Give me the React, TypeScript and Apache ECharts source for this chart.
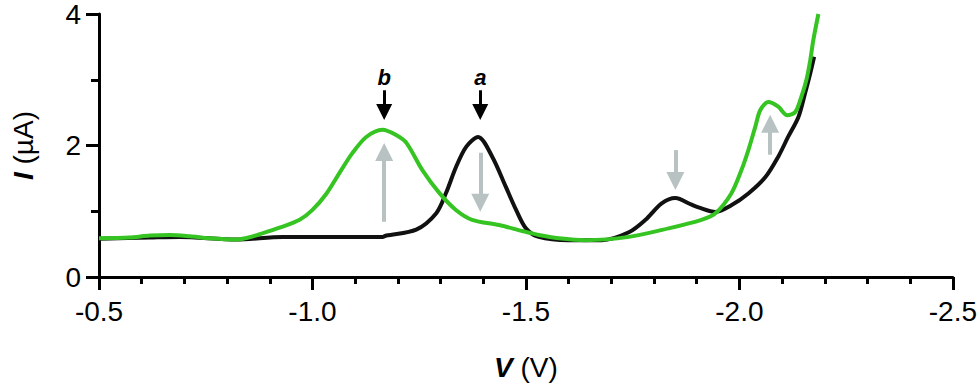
import React, { useEffect, useRef } from "react";
import * as echarts from "echarts";

// Curve a (black)
const aV = [-0.5, -0.619, -0.689, -0.822, -0.93, -1.164, -1.173, -1.243, -1.29, -1.313, -1.336, -1.36, -1.388, -1.421, -1.453, -1.477, -1.5, -1.53, -1.6, -1.678, -1.741, -1.78, -1.818, -1.85, -1.888, -1.904, -1.944, -1.981, -2.021, -2.061, -2.091, -2.114, -2.138, -2.154, -2.166, -2.175];
const aI = [0.58, 0.6, 0.61, 0.57, 0.61, 0.61, 0.63, 0.72, 0.97, 1.28, 1.67, 1.98, 2.13, 1.83, 1.37, 1.02, 0.74, 0.61, 0.56, 0.56, 0.68, 0.87, 1.12, 1.2, 1.1, 1.06, 0.99, 1.09, 1.27, 1.52, 1.83, 2.13, 2.43, 2.8, 3.1, 3.35];

// Curve b (green)
const bV = [-0.5, -0.572, -0.619, -0.666, -0.713, -0.759, -0.822, -0.85, -0.876, -0.923, -0.97, -1.0, -1.033, -1.063, -1.093, -1.126, -1.164, -1.196, -1.22, -1.257, -1.297, -1.336, -1.374, -1.437, -1.491, -1.53, -1.577, -1.64, -1.741, -1.834, -1.911, -1.944, -1.981, -2.005, -2.021, -2.037, -2.049, -2.068, -2.091, -2.112, -2.131, -2.145, -2.157, -2.166, -2.173, -2.185];
const bI = [0.59, 0.6, 0.63, 0.64, 0.62, 0.59, 0.57, 0.6, 0.65, 0.75, 0.87, 1.02, 1.27, 1.58, 1.88, 2.13, 2.24, 2.16, 2.04, 1.63, 1.28, 1.02, 0.87, 0.79, 0.7, 0.64, 0.59, 0.56, 0.61, 0.74, 0.87, 0.97, 1.27, 1.63, 1.93, 2.28, 2.54, 2.66, 2.59, 2.46, 2.51, 2.74, 3.0, 3.3, 3.6, 4.0];

// Gray change arrows: [V, from I, to I]
const grayArrows = [
  [-1.168, 0.84, 1.9],
  [-1.393, 1.89, 1.13],
  [-1.85, 1.93, 1.46],
  [-2.072, 1.86, 2.33],
];
// Peak marker arrows: [V, from I, to I, label]
const peakArrows: [number, number, number, string][] = [
  [-1.168, 2.84, 2.51, "b"],
  [-1.393, 2.84, 2.51, "a"],
];
const labelI = 3.04;

const xTicks = { min: -2.5, max: -0.5, interval: 0.5 };
const yTicks = { min: 0, max: 4, interval: 2 };

const FONT = "Liberation Sans, Arial, sans-serif";

export default function App() {
  const ref = useRef<HTMLDivElement>(null);
  useEffect(() => {
    if (!ref.current) return;
    const chart = echarts.init(ref.current, null, { renderer: "svg" });
    const aData = aV.map((v, i) => [v, aI[i]]);
    const bData = bV.map((v, i) => [v, bI[i]]);
    const grayLines = grayArrows.map(([v, y1, y2]) => [
      { coord: [v, y1], symbol: "none" },
      { coord: [v, y2], symbol: "triangle", symbolSize: 18 },
    ]);
    const blackLines = peakArrows.map(([v, y1, y2]) => [
      { coord: [v, y1], symbol: "none" },
      { coord: [v, y2], symbol: "triangle", symbolSize: 16 },
    ]);
    const axisLine = { lineStyle: { color: "#000", width: 3 } };
    chart.setOption({
      animation: false,
      textStyle: { fontFamily: FONT },
      grid: { left: 99, right: 25, top: 14, bottom: 113 },
      xAxis: {
        type: "value",
        inverse: true,
        min: xTicks.min,
        max: xTicks.max,
        interval: xTicks.interval,
        axisLine: { ...axisLine, onZero: false },
        axisTick: { show: true, inside: false, length: 13, lineStyle: { color: "#000", width: 3 } },
        minorTick: { show: true, splitNumber: 5, length: 7, lineStyle: { color: "#000", width: 3 } },
        splitLine: { show: false },
        axisLabel: {
          color: "#000",
          fontSize: 28,
          fontFamily: FONT,
          margin: 20,
          formatter: (v: number) => v.toFixed(1),
        },
        name: "{b|V} (V)",
        nameLocation: "middle",
        nameGap: 76,
        nameTextStyle: {
          fontSize: 28,
          color: "#000",
          fontFamily: FONT,
          rich: { b: { fontSize: 28, fontWeight: "bold", fontStyle: "italic", fontFamily: FONT } },
        },
      },
      yAxis: {
        type: "value",
        min: yTicks.min,
        max: yTicks.max,
        interval: yTicks.interval,
        axisLine: { ...axisLine, show: true },
        axisTick: { show: true, inside: false, length: 13, lineStyle: { color: "#000", width: 3 } },
        minorTick: { show: true, splitNumber: 2, length: 8, lineStyle: { color: "#000", width: 3 } },
        splitLine: { show: false },
        axisLabel: { color: "#000", fontSize: 28, fontFamily: FONT, margin: 18 },
        name: "{b|I} (\u00b5A)",
        nameLocation: "middle",
        nameRotate: 90,
        nameGap: 62,
        nameTextStyle: {
          fontSize: 28,
          color: "#000",
          fontFamily: FONT,
          rich: { b: { fontSize: 28, fontWeight: "bold", fontStyle: "italic", fontFamily: FONT } },
        },
      },
      series: [
        {
          type: "line",
          data: aData,
          showSymbol: false,
          smooth: 0.3,
          lineStyle: { color: "#111", width: 4 },
          z: 2,
          markLine: {
            silent: true,
            animation: false,
            label: { show: false },
            lineStyle: { color: "#000", width: 3, type: "solid" },
            data: blackLines,
          },
          markPoint: {
            silent: true,
            symbolSize: 0,
            label: {
              show: true,
              position: "inside",
              color: "#000",
              fontSize: 22,
              fontWeight: "bold",
              fontStyle: "italic",
              fontFamily: FONT,
              formatter: (p: any) => p.name,
            },
            data: peakArrows.map(([v, , , name]) => ({ name, coord: [v, labelI] })),
          },
        },
        {
          type: "line",
          data: bData,
          showSymbol: false,
          smooth: 0.3,
          lineStyle: { color: "#36c423", width: 4 },
          z: 3,
          markLine: {
            silent: true,
            animation: false,
            label: { show: false },
            lineStyle: { color: "#b8c2c2", width: 4, type: "solid" },
            itemStyle: { color: "#b8c2c2" },
            data: grayLines,
          },
        },
      ],
    });
    return () => chart.dispose();
  }, []);
  return (
    <div
      ref={ref}
      style={{ position: "fixed", left: 0, top: 0, width: 980, height: 390, background: "#fff" }}
    />
  );
}
